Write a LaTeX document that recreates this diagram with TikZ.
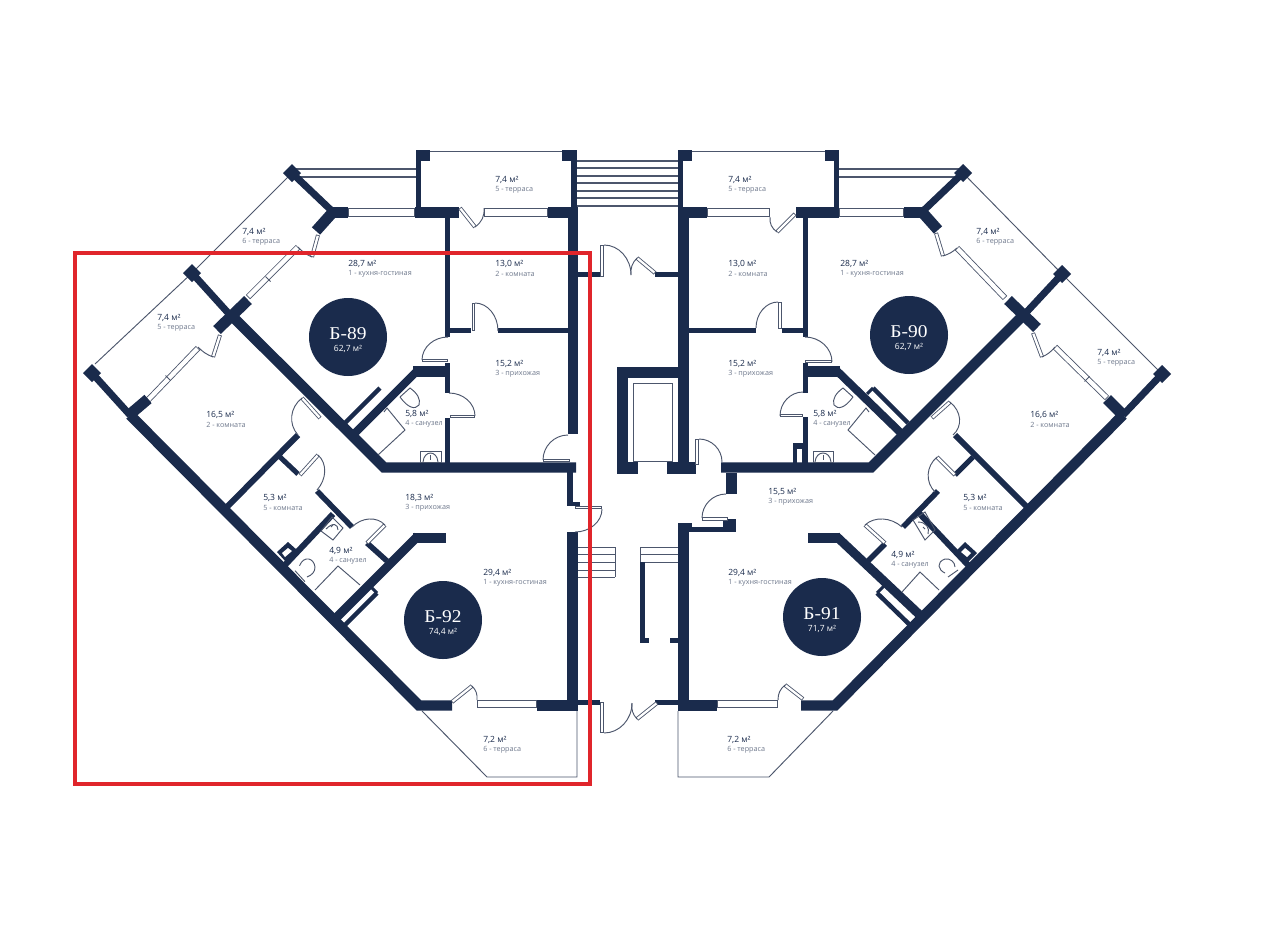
\documentclass[tikz,border=0pt]{standalone}
\usepackage{fontspec}
\usetikzlibrary{calc}
\setmainfont{Open Sans}
\newfontfamily\unitfont[FakeStretch=1.08]{Liberation Serif}
\definecolor{navy}{HTML}{1A2B4C}
\definecolor{frame}{HTML}{4C566C}
\definecolor{labelgrey}{HTML}{6E788C}
\definecolor{markred}{HTML}{E0252B}
\newcommand{\wR}[4]{\fill[navy] (#1,#2) rectangle (#3,#4);}
\newcommand{\wD}[5]{\draw[navy,line width=#1*0.75pt] (#2,#3) -- (#4,#5);}
\newcommand{\wC}[2]{\fill[navy] (#1-9,#2) -- (#1,#2-9) -- (#1+9,#2) -- (#1,#2+9) -- cycle;}
\newcommand{\wWin}[5]{\draw[frame,line width=#1*0.75pt] (#2,#3) -- (#4,#5);
  \draw[white,line width=(#1-1.7)*0.75pt,shorten <=0.6pt,shorten >=0.6pt] (#2,#3) -- (#4,#5);}
\newcommand{\wSwing}[6]{\draw[thinline] (#1,#2) .. controls ($(#1,#2)+0.55*(#3,#4)-0.55*(#5,#6)$) and ($(#3,#4)+0.55*(#1,#2)-0.55*(#5,#6)$) .. (#3,#4);}
\newcommand{\rl}[5]{\node[areatext] (#1a) at (#2,#3) {#4};\node[roomtext] (#1b) at (#2,#3+10) {#5};}
\newcommand{\unitmark}[6]{\node[circle,fill=navy,minimum size=58.5pt,inner sep=0pt] (#1c) at (#2,#3) {};
  \node[unittext] (#1t) at (#2,#4) {#5};\node[unitarea] (#1s) at (#2,#4+15) {#6};}
\tikzset{
  areatext/.style={anchor=west,inner sep=0pt,text=navy,font=\fontsize{6.4}{7}\selectfont},
  roomtext/.style={anchor=west,inner sep=0pt,text=labelgrey,font=\fontsize{5.4}{6}\selectfont},
  unittext/.style={inner sep=0pt,text=white,font=\unitfont\fontsize{13.5}{14}\selectfont},
  unitarea/.style={inner sep=0pt,text=white,font=\fontsize{6.4}{7}\selectfont},
  thinline/.style={draw=frame,line width=0.7pt},
  rail/.style={draw=frame,line width=0.9pt}
}
\begin{document}
\begin{tikzpicture}[x=0.75pt,y=-0.75pt]
\useasboundingbox (0,0) rectangle (1280,929);
\fill[white] (0,0) rectangle (1280,929);

% ---- thin terrace outlines and railings
\draw[thinline] (95,364) -- (192,273) -- (292,173);
\draw[thinline] (963,173) -- (1062,274) -- (1162,374);
\draw[thinline] (430,151) -- (562,151);
\draw[thinline] (692,151) -- (825,151);
\draw[thinline] (422,711) -- (487,777) -- (577,777) -- (577,711);
\draw[thinline] (678,711) -- (678,777) -- (769,777) -- (833,711);
\draw[rail] (292,169) -- (416,169) (292,177) -- (416,177);
\draw[rail] (839,169) -- (963,169) (839,177) -- (963,177);

% ---- stairs
\foreach \yy in {161,168,176,183,191,198,206} {\draw[rail] (577,\yy) -- (678,\yy);}
\foreach \yy in {547,554,562,570,577} {\draw[thinline] (578,\yy) -- (615,\yy);}
\draw[thinline] (615,547) -- (615,577);
\foreach \yy in {547,554,562} {\draw[thinline] (640,\yy) -- (678,\yy);}
\draw[thinline] (640,547) -- (640,562);

% ---- windows
\wWin{9}{348}{212.5}{415}{212.5}
\wWin{9}{484}{212.5}{548}{212.5}
\wWin{9}{707}{212.5}{770}{212.5}
\wWin{9}{839}{212.5}{904}{212.5}
\wWin{8}{477}{704}{537}{704}
\wWin{8}{717}{704}{778}{704}
\wWin{6}{148}{400}{198}{348}
\wWin{6}{248}{297}{298}{247}
\wWin{6}{957}{248}{1005}{298}
\wWin{6}{1055}{347}{1107}{398}
\draw[thinline] (165.5,375.5) -- (170.5,380.5);
\draw[thinline] (265.5,276.5) -- (270.5,281.5);
\draw[thinline] (1084.5,381.5) -- (1089.5,376.5);

% ---- outer and main walls, left block
\wC{92}{373}\wC{192}{273}\wC{292}{173}
\wD{7}{92}{373}{130}{415}
\wD{7}{192}{273}{230}{315}
\wD{7}{292}{173}{333}{212}
\wD{11}{217}{330}{248}{300}
\wD{11}{128}{416}{148}{399}
\wD{11}{316}{231}{333}{212}
\wR{333}{207}{348}{218}
\draw[navy,line width=7.8pt,miter limit=10] (130,415) -- (419,705.5) -- (452,705.5);
\draw[navy,line width=7.8pt,miter limit=10] (230,314) -- (384,467.5) -- (576,467.5);
\wR{416}{150}{421}{207}\wR{416}{150}{430}{161}\wR{562}{150}{577}{161}\wR{571}{150}{577}{207}
\wR{415}{207}{459}{218}\wR{548}{207}{578}{218}
\wR{568}{207}{578}{434}
\wR{445}{217}{450}{337}
\wR{450}{328}{471}{333}\wR{498}{328}{568}{333}
\wR{445}{363}{450}{393}\wR{413}{366}{450}{377}
\wD{8}{417}{371}{352}{436}
\wD{4.5}{380}{388}{345}{423}
\wR{445}{418}{450}{464}
\wR{567}{472}{573}{502}\wR{567}{502}{580}{506}
\wR{567}{532}{578}{711}
\wR{537}{700}{578}{711}
\wR{578}{272}{600}{277}\wR{655}{272}{678}{277}
\wR{578}{700}{600}{705}\wR{655}{700}{678}{705}

% ---- Б-92 inner walls
\wD{6}{298}{435}{226}{508}
\wD{5}{280}{457}{298}{474}
\wD{5.5}{317}{491}{352}{527}
\wD{5.5}{367}{543}{387}{561}
\wR{413}{533}{446}{543}
\wD{9}{418}{536}{335}{619}
\wD{4.5}{377}{593}{345}{625}
\wD{3}{377}{593}{371}{587}
\wD{6}{333}{514}{285}{565}
\fill[navy] (288,542) -- (297,550) -- (286,562) -- (277,552) -- cycle;
\fill[white] (288,548) -- (292,551) -- (285,557) -- (282,553) -- cycle;

% ---- centre
\wR{617}{367}{678}{378}\wR{617}{367}{628}{474}\wR{617}{462}{638}{474}\wR{667}{462}{696}{474}
\draw[thinline] (633,383) rectangle (672,461);
\wR{640}{562}{645}{643}\wR{640}{638}{649}{643}\wR{670}{638}{678}{643}

% ---- right block
\wC{963}{173}\wC{1062}{274}\wC{1162}{374}
\wR{678}{150}{683}{207}\wR{678}{150}{692}{161}\wR{825}{150}{839}{161}\wR{834}{150}{839}{218}
\wR{678}{207}{707}{218}\wR{796}{207}{839}{218}
\wR{678}{207}{689}{473}
\wR{803}{218}{808}{337}
\wR{689}{328}{756}{333}\wR{782}{328}{803}{333}
\wR{803}{363}{808}{393}\wR{803}{366}{840}{377}
\wR{803}{417}{808}{463}
\wR{793}{443}{803}{463}
\fill[white] (797,449) rectangle (802,463);
\draw[navy,line width=7.8pt,miter limit=10] (721,467.5) -- (871,467.5) -- (1022,316.5);
\wD{7}{1022}{317}{1062}{274}
\wD{11}{1008}{300}{1037}{328}
\wD{7}{963}{173}{922}{212}
\wD{11}{922}{212}{938}{230}
\wR{904}{207}{923}{218}
\draw[navy,line width=7.8pt,miter limit=10] (1123,415) -- (835,705.5) -- (801,705.5);
\wD{7}{1162}{374}{1123}{415}
\wD{11}{1107}{399}{1124}{416}
\wD{8}{836}{370}{905}{437}
\wD{4.5}{873}{388}{908}{423}
\wD{3}{873}{388}{867}{394}
\wR{726}{473}{737}{494}
\wR{723}{519}{736}{532}\wR{678}{527}{736}{532}\wR{678}{523}{692}{527}
\wR{678}{523}{689}{711}
\wR{678}{700}{717}{711}
\wD{6}{955}{435}{1027}{507}
\wD{5}{973}{457}{955}{475}
\wD{5.5}{938}{491}{903}{527}
\wD{5.5}{885}{544}{868}{561}
\wR{808}{533}{840}{543}
\wD{9}{836}{536}{923}{618}
\wD{4.5}{877}{593}{911}{626}
\wD{3}{877}{593}{884}{586}
\wD{6}{918}{512}{968}{565}
\fill[navy] (965,542) -- (977,553) -- (967,563) -- (955,552) -- cycle;
\fill[white] (965,548) -- (971,553) -- (967,557) -- (961,552) -- cycle;

% ---- doors
\wWin{4}{220}{335}{213}{357}\draw[thinline] (213,357) to[bend left=12] (198,347);
\wWin{4}{318}{235}{312}{257}\draw[thinline] (312,257) to[bend left=12] (298,247);
\wWin{4}{460}{208}{475}{227}\draw[thinline] (475,227) to[bend right=30] (484,208);
\wWin{3.5}{473.5}{303}{473.5}{331}\wSwing{475}{303}{498}{331}{475}{331}
\wWin{3.5}{422}{360.5}{448}{360.5}\wSwing{448}{337}{422}{360}{448}{360}
\wWin{3.5}{450}{416.5}{475}{416.5}\wSwing{449}{393}{475}{416}{449}{416}
\wWin{3.5}{543}{460.5}{570}{460.5}\wSwing{568}{435}{543}{460}{568}{460}
\wWin{3.5}{575}{507.5}{602}{507.5}\wSwing{602}{509}{575}{532}{575}{509}
\wWin{4}{302}{398}{320}{418}\wSwing{302}{398}{298}{435}{320}{418}
\wWin{4}{300}{475}{318}{455}\wSwing{318}{455}{317}{490}{300}{475}
\wWin{4}{385}{525}{367}{543}\wSwing{385}{525}{352}{527}{367}{543}
\wWin{4}{452}{702}{472}{686}\draw[thinline] (472,686) to[bend left=25] (477,700);
\wWin{3.5}{602}{702}{602}{733}\wSwing{604}{733}{632}{703}{604}{703}
\draw[thinline] (632,703) to[bend right=25] (637,719);
\wWin{4}{637}{719}{657}{703}
\wWin{3.5}{602}{245}{602}{277}\wSwing{604}{245}{631}{275}{604}{275}
\draw[thinline] (631,275) to[bend left=25] (637,258);
\wWin{4}{637}{258}{655}{273}
\wWin{3.5}{697}{439}{697}{465}\wSwing{699}{439}{722}{462}{699}{462}
\draw[thinline] (770,217) to[bend right=30] (777,232);
\wWin{4}{777}{232}{795}{214}
\wWin{3.5}{780}{302}{780}{329}\wSwing{756}{328}{778}{302}{778}{328}
\wWin{3.5}{805}{361.5}{832}{361.5}\wSwing{805}{337}{832}{362}{805}{362}
\wWin{3.5}{780}{415.5}{803}{415.5}\wSwing{803}{392}{780}{416}{803}{416}
\wWin{4}{936}{233}{943}{256}\draw[thinline] (943,256) to[bend right=12] (957,248);
\wWin{4}{1033}{333}{1042}{357}\draw[thinline] (1042,357) to[bend right=12] (1055,347);
\wWin{4}{932}{418}{950}{402}\wSwing{950}{402}{953}{435}{932}{418}
\wWin{4}{955}{475}{937}{457}\wSwing{937}{457}{935}{492}{955}{475}
\wWin{4}{865}{525}{885}{543}\wSwing{865}{525}{902}{527}{885}{543}
\wWin{3.5}{702}{519}{728}{519}\wSwing{726}{494}{702}{518}{726}{518}
\wWin{4}{785}{685}{803}{699}\draw[thinline] (778,700) to[bend left=25] (785,685);

% ---- fixtures: Б-89
\draw[thinline] (400,397) -- (410,388) .. controls (417,393) and (421,399) .. (419,405) .. controls (415,410) and (408,408) .. (400,397);
\draw[thinline] (384,412) -- (387,408) -- (405,430) -- (378,455);
\draw[thinline] (420.5,451) rectangle (441,462);
\draw[thinline] (423,462) .. controls (424,450) and (437,450) .. (438,462);
\draw[thinline] (430.5,455) -- (430.5,460);
% Б-90
\draw[thinline] (853,397) -- (843,388) .. controls (836,393) and (832,399) .. (834,405) .. controls (838,410) and (845,408) .. (853,397);
\draw[thinline] (869,412) -- (866,408) -- (848,430) -- (875,455);
\draw[thinline] (813,451) rectangle (833,462);
\draw[thinline] (815,462) .. controls (816,450) and (830,450) .. (831,462);
\draw[thinline] (823,455) -- (823,460);
% Б-92
\draw[thinline] (295,570.7) -- (305,581.7);
\draw[thinline] (299.5,565.7) .. controls (304,555) and (314,558) .. (315,567) .. controls (315,572) and (312,575) .. (307,577);
\draw[thinline] (315,590) -- (338,566) -- (360,585);
\draw[thinline] (332,517) -- (343,528) -- (333,540) -- (321,531) -- cycle;
\draw[thinline] (326,529) .. controls (333,522) and (338,524) .. (338,530);
\draw[thinline] (331,527) -- (333,525);
% Б-91
\draw[thinline] (948,577) -- (958,570);
\draw[thinline] (945,573) .. controls (938,570) and (936,562) .. (945,559) .. controls (950,558) and (955,562) .. (955,567);
\draw[thinline] (902,592) -- (920,572) -- (939,590);
\draw[thinline] (913,520) -- (925,512) -- (935,530) -- (925,540) -- cycle;
\draw[thinline] (918,522) .. controls (926,522) and (930,528) .. (928,534);
\draw[thinline] (923,527) -- (925,529);

% ---- room labels
\rl{la}{242}{232}{7,4 м²}{6 - терраса}
\rl{lb}{157}{318}{7,4 м²}{5 - терраса}
\rl{lc}{206}{415}{16,5 м²}{2 - комната}
\rl{ld}{348}{264}{28,7 м²}{1 - кухня-гостиная}
\rl{le}{495}{180}{7,4 м²}{5 - терраса}
\rl{lf}{495}{264}{13,0 м²}{2 - комната}
\rl{lg}{495}{364}{15,2 м²}{3 - прихожая}
\rl{lh}{405}{414}{5,8 м²}{4 - санузел}
\rl{li}{263}{498}{5,3 м²}{5 - комната}
\rl{lj}{405}{498}{18,3 м²}{3 - прихожая}
\rl{lk}{329}{551}{4,9 м²}{4 - санузел}
\rl{ll}{483}{573}{29,4 м²}{1 - кухня-гостиная}
\rl{lm}{483}{740}{7,2 м²}{6 - терраса}
\rl{ra}{728}{180}{7,4 м²}{5 - терраса}
\rl{rb}{728}{264}{13,0 м²}{2 - комната}
\rl{rc}{840}{264}{28,7 м²}{1 - кухня-гостиная}
\rl{rd}{728}{364}{15,2 м²}{3 - прихожая}
\rl{re}{813}{414}{5,8 м²}{4 - санузел}
\rl{rf}{976}{232}{7,4 м²}{6 - терраса}
\rl{rg}{1097}{353}{7,4 м²}{5 - терраса}
\rl{rh}{1030}{415}{16,6 м²}{2 - комната}
\rl{ri}{768}{492}{15,5 м²}{3 - прихожая}
\rl{rj}{963}{498}{5,3 м²}{5 - комната}
\rl{rk}{891}{555}{4,9 м²}{4 - санузел}
\rl{rl}{728}{573}{29,4 м²}{1 - кухня-гостиная}
\rl{rm}{727}{740}{7,2 м²}{6 - терраса}

% ---- unit markers
\unitmark{ua}{348}{337}{334}{Б-89}{62,7 м²}
\unitmark{ub}{443}{620}{617}{Б-92}{74,4 м²}
\unitmark{uc}{909}{335}{332}{Б-90}{62,7 м²}
\unitmark{ud}{822}{617}{614}{Б-91}{71,7 м²}

% ---- red frame
\draw[markred,line width=3pt] (75,252.5) rectangle (590,784);
\end{tikzpicture}
\end{document}
